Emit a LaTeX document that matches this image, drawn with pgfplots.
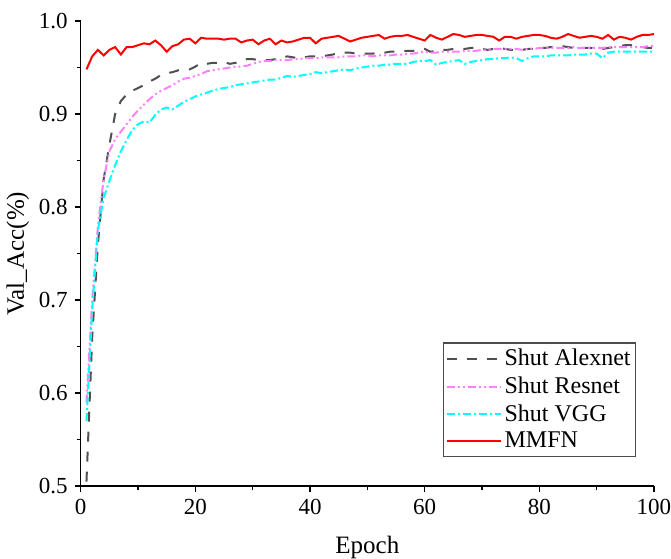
\documentclass[border=0pt]{standalone}
\usepackage{fontspec}
\setmainfont{Liberation Serif}
\usepackage{pgfplots}
\usepackage{pgfplotstable}
\pgfplotsset{compat=1.18}
\definecolor{alexc}{RGB}{80,80,80}
\definecolor{resc}{RGB}{255,128,255}
\definecolor{vggc}{RGB}{0,255,255}
\definecolor{mmfnc}{RGB}{255,0,0}
\pgfplotstableread{
x mmfn alex res vgg
1 .948 .505 .59 .57
2 .962 .66 .70 .69
3 .969 .76 .78 .775
4 .963 .83 .83 .81
5 .969 .867 .860 .828
6 .972 .90 .873 .845
7 .964 .914 .881 .860
8 .972 .921 .889 .872
9 .972 .925 .897 .883
10 .974 .928 .904 .889
11 .976 .931 .910 .892
12 .975 .935 .916 .891
13 .979 .938 .921 .899
14 .974 .942 .925 .905
15 .967 .944 .928 .907
16 .973 .945 .931 .905
17 .975 .947 .935 .909
18 .980 .948 .938 .913
19 .981 .948 .939 .916
20 .976 .951 .941 .919
21 .982 .955 .943 .921
22 .981 .954 .946 .923
23 .981 .955 .947 .925
24 .981 .955 .948 .927
25 .980 .956 .949 .928
26 .981 .954 .950 .929
27 .981 .955 .951 .931
28 .977 .958 .951 .932
29 .979 .959 .952 .933
30 .980 .959 .954 .934
31 .975 .958 .956 .935
32 .979 .958 .957 .936
33 .981 .958 .957 .937
34 .975 .959 .958 .937
35 .979 .960 .958 .939
36 .977 .962 .958 .941
37 .978 .961 .959 .940
38 .980 .960 .959 .941
39 .982 .961 .960 .942
40 .982 .962 .960 .943
41 .976 .962 .960 .945
42 .981 .962 .961 .944
43 .982 .963 .961 .945
44 .983 .964 .961 .946
45 .984 .966 .961 .947
46 .981 .966 .962 .948
47 .978 .966 .962 .947
48 .980 .965 .962 .949
49 .982 .965 .963 .950
50 .983 .965 .963 .951
51 .984 .965 .962 .952
52 .985 .966 .963 .952
53 .981 .966 .963 .953
54 .983 .967 .963 .953
55 .984 .967 .964 .954
56 .984 .968 .964 .954
57 .985 .968 .965 .954
58 .983 .968 .965 .956
59 .981 .969 .966 .957
60 .979 .970 .967 .957
61 .985 .967 .966 .958
62 .982 .968 .966 .953
63 .980 .969 .967 .955
64 .983 .969 .967 .956
65 .986 .970 .967 .957
66 .985 .970 .967 .958
67 .983 .970 .968 .954
68 .984 .971 .968 .956
69 .985 .971 .968 .957
70 .985 .970 .969 .958
71 .984 .969 .969 .959
72 .983 .970 .970 .959
73 .979 .971 .970 .960
74 .983 .970 .970 .960
75 .983 .969 .970 .961
76 .981 .969 .970 .960
77 .983 .969 .969 .957
78 .984 .970 .970 .960
79 .985 .970 .970 .962
80 .985 .971 .971 .962
81 .984 .971 .971 .962
82 .982 .972 .971 .963
83 .981 .972 .971 .963
84 .983 .973 .971 .963
85 .986 .972 .971 .963
86 .984 .971 .972 .964
87 .982 .971 .971 .964
88 .983 .971 .971 .964
89 .984 .971 .971 .965
90 .983 .970 .971 .965
91 .981 .970 .971 .960
92 .985 .971 .972 .966
93 .980 .972 .972 .967
94 .983 .973 .972 .967
95 .982 .974 .972 .967
96 .980 .974 .972 .967
97 .983 .973 .972 .967
98 .985 .972 .972 .967
99 .985 .971 .973 .967
100 .986 .971 .973 .967
}\datatab
\begin{document}
\begin{tikzpicture}
\begin{axis}[
  scale only axis,
  width=286.5pt, height=232.5pt,
  xmin=0, xmax=100, ymin=0.5, ymax=1.0,
  axis lines*=left,
  axis line style={line width=0.75pt, black},
  tick align=outside,
  major tick length=3pt, minor tick length=2pt,
  every tick/.style={black, line width=0.75pt},
  xtick={0,20,...,100},
  ytick={0.5,0.6,...,1.0},
  minor x tick num=1, minor y tick num=1,
  /pgf/number format/assume math mode=true,
  yticklabel style={/pgf/number format/fixed, /pgf/number format/fixed zerofill, /pgf/number format/precision=1},
  xticklabel style={/pgf/number format/fixed},
  tick label style={font=\fontsize{11.5}{13}\selectfont},
  xlabel={Epoch}, ylabel={Val\_Acc(\%)},
  label style={font=\fontsize{12.5}{14}\selectfont},
  xlabel style={yshift=-4pt},
  ylabel style={yshift=-2pt},
  legend style={at={(0.969,0.062)}, anchor=south east, draw=black!70, line width=0.6pt,
    font=\fontsize{12}{14}\selectfont, row sep=2pt, inner xsep=1pt, inner ysep=2pt,
    nodes={inner xsep=1.5pt, inner ysep=1pt}},
  legend cell align=left,
  legend image code/.code={\draw[#1] (0pt,0pt) -- (27pt,0pt);},
]
\addplot[alexc, line width=1pt, dash pattern=on 5pt off 5pt] table[x=x, y=alex] {\datatab};
\addlegendentry{Shut Alexnet}
\addplot[resc, line width=1pt, dash pattern=on 4pt off 1.5pt on 1pt off 1.5pt on 1pt off 1.5pt] table[x=x, y=res] {\datatab};
\addlegendentry{Shut Resnet}
\addplot[vggc, line width=1pt, dash pattern=on 4pt off 1.5pt on 1pt off 1.5pt] table[x=x, y=vgg] {\datatab};
\addlegendentry{Shut VGG}
\addplot[mmfnc, line width=1pt] table[x=x, y=mmfn] {\datatab};
\addlegendentry{MMFN}
\coordinate (sw) at (rel axis cs:0,0);
\coordinate (ne) at (rel axis cs:1,1);
\end{axis}
\pgfresetboundingbox
\path ([shift={(-40.35pt,-36pt)}]sw) rectangle ([shift={(8.5pt,10.5pt)}]ne);
\end{tikzpicture}
\end{document}
